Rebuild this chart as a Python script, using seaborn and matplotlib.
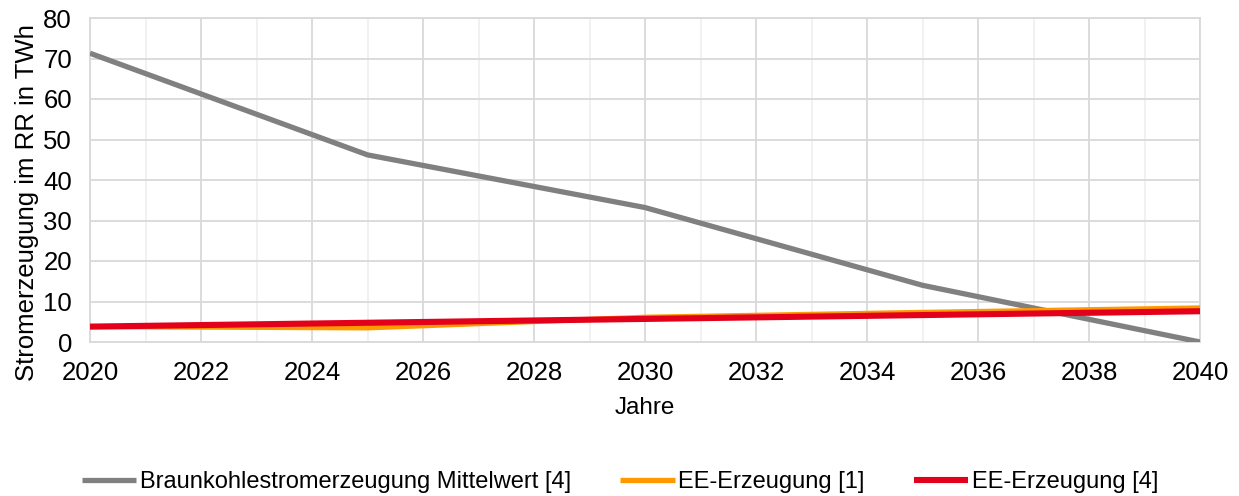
import matplotlib
matplotlib.use("Agg")
import matplotlib.pyplot as plt
import seaborn as sns
import pandas as pd
from matplotlib.ticker import MultipleLocator

years = [2020, 2025, 2030, 2035, 2040]
braunkohle = [71.3, 46.2, 33.2, 14.0, 0.0]
ee1 = [3.8, 3.5, 6.1, 7.3, 8.4]
ee4 = [3.8, 4.75, 5.7, 6.65, 7.6]

series_names = ["Braunkohlestromerzeugung Mittelwert [4]", "EE-Erzeugung [1]", "EE-Erzeugung [4]"]
colors = ["#808080", "#FF9900", "#E2001A"]
widths = [3.8, 3.8, 4.4]

df = pd.concat([
    pd.DataFrame({"Jahr": years, "Wert": v, "Reihe": n})
    for v, n in zip([braunkohle, ee1, ee4], series_names)
])

sns.set_theme(style="white")
plt.rcParams["font.family"] = ["Liberation Sans", "DejaVu Sans"]
plt.rcParams["text.color"] = "black"
plt.rcParams["axes.labelcolor"] = "black"

fig = plt.figure(figsize=(12.39, 4.96), dpi=100)
ax = fig.add_axes([90/1239, 1-342/496, 1110/1239, 324/496])

for name, c, w in zip(series_names, colors, widths):
    d = df[df["Reihe"] == name]
    sns.lineplot(data=d, x="Jahr", y="Wert", color=c, linewidth=w, ax=ax,
                 label=name, solid_capstyle="butt", zorder=3)

ax.set_xlim(2020, 2040)
ax.set_ylim(0, 80)
ax.xaxis.set_major_locator(MultipleLocator(2))
ax.xaxis.set_minor_locator(MultipleLocator(1))
ax.yaxis.set_major_locator(MultipleLocator(10))
ax.grid(which="major", axis="both", color="#D9D9D9", linewidth=1.3, zorder=0)
ax.grid(which="minor", axis="x", color="#F0F0F0", linewidth=1.3, zorder=0)
ax.set_axisbelow(True)
for s in ax.spines.values():
    s.set_color("#D9D9D9")
    s.set_linewidth(1.3)
ax.tick_params(axis="both", which="both", length=0, labelsize=18.5, colors="#000000")
ax.tick_params(axis="x", pad=14)
ax.tick_params(axis="y", pad=13)
ax.set_xlabel("Jahre", fontsize=17.5, color="black")
ax.set_ylabel("Stromerzeugung im RR in TWh", fontsize=18.5, color="black")
ax.xaxis.set_label_coords(0.5, -0.17)
ax.yaxis.set_label_coords(-0.046, 0.43)

handles, labels = ax.get_legend_handles_labels()
ax.get_legend().remove()
leg = fig.legend(handles, labels, loc="center", bbox_to_anchor=(620/1239, 1-482/496), ncol=3,
                 frameon=False, fontsize=17, handlelength=2.3, handletextpad=0.15,
                 columnspacing=2.1, borderpad=0, borderaxespad=0)
for t in leg.get_texts():
    t.set_color("black")

fig.savefig("out.png", dpi=100)
